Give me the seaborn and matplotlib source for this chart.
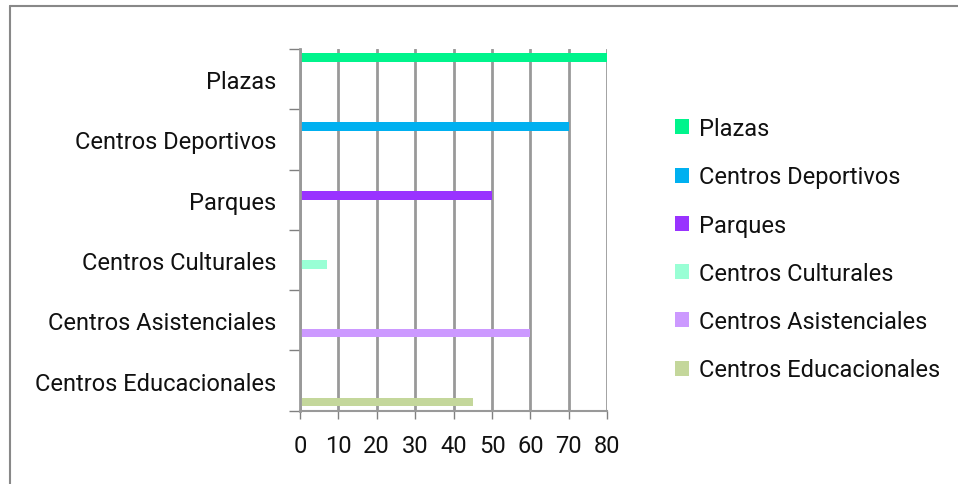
import pandas as pd
import matplotlib
matplotlib.use('Agg')
import matplotlib.pyplot as plt
import seaborn as sns
from matplotlib.lines import Line2D
from matplotlib.patches import Patch

categorias = ['Plazas', 'Centros Deportivos', 'Parques', 'Centros Culturales',
              'Centros Asistenciales', 'Centros Educacionales']
valores = [80, 70, 50, 7, 60, 45]
colores = ['#00F48C', '#00B0F0', '#9933FF', '#99FFD5', '#CC99FF', '#C4D79B']

df = pd.DataFrame({'Categoria': categorias, 'Valor': valores})

sns.set_style('white')
plt.rcParams['font.family'] = ['Roboto', 'DejaVu Sans']

fig = plt.figure(figsize=(9.58, 4.85), dpi=100)
ax = fig.add_axes([0.313, 0.151, 0.321, 0.746])

sns.barplot(data=df, y='Categoria', x='Valor', hue='Categoria', order=categorias,
            hue_order=categorias, palette=colores, dodge=True, width=0.85,
            saturation=1, linewidth=0, legend=False, ax=ax)

ax.set_xlim(0, 80)
ax.set_xticks(range(0, 81, 10))
ax.set_ylim(len(categorias) - 0.5, -0.5)
# etiquetas centradas en cada banda, ticks entre bandas
ax.set_yticks([i + 0.5 for i in range(-1, len(categorias))], minor=False)
ax.set_yticklabels([])
ax.set_yticks(range(len(categorias)), minor=True)
ax.set_yticklabels(categorias, minor=True)
ax.tick_params(axis='y', which='minor', length=0, pad=17, labelsize=17)
ax.tick_params(axis='y', which='major', length=8, width=1, color='#808080', direction='out', left=True)
ax.tick_params(axis='x', length=6, width=1, color='#808080', direction='out', bottom=True, labelsize=17, pad=11)
for t in ax.get_xticklabels() + ax.get_yticklabels(minor=True):
    t.set_color('#111111')

ax.grid(axis='x', color='#999999', linewidth=2)
ax.set_axisbelow(True)
for lado in ['top', 'right']:
    ax.spines[lado].set_visible(False)
ax.spines['left'].set_color('#999999')
ax.spines['left'].set_linewidth(2)
ax.spines['bottom'].set_color('#999999')
ax.spines['bottom'].set_linewidth(1.5)
ax.set_xlabel('')
ax.set_ylabel('')

handles = [Patch(facecolor=c, edgecolor='none') for c in colores]
leg = fig.legend(handles, categorias, loc='upper left', bbox_to_anchor=(0.695, 0.776),
                 frameon=False, fontsize=17, handlelength=0.6, handleheight=0.6,
                 handletextpad=0.4, labelspacing=1.07, borderaxespad=0)
for t in leg.get_texts():
    t.set_color('#111111')

# marco del área del gráfico
fig.add_artist(Line2D([0.0104, 1.0], [0.985, 0.985], color='#888888', linewidth=1.5, transform=fig.transFigure))
fig.add_artist(Line2D([0.0104, 0.0104], [0.0, 0.985], color='#888888', linewidth=1.5, transform=fig.transFigure))

fig.savefig('out.png', dpi=100)
